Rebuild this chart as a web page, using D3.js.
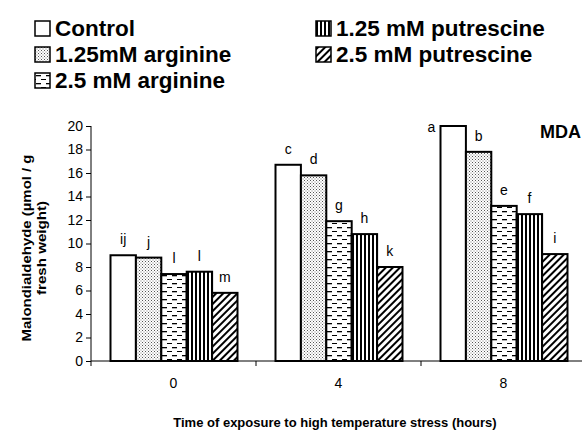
<!DOCTYPE html>
<html>
<head>
<meta charset="utf-8">
<script src="https://cdn.jsdelivr.net/npm/d3@7"></script>
<style>
  html, body { margin: 0; padding: 0; background: #fff; }
  svg { display: block; }
  text { font-family: Arial, "Liberation Sans", sans-serif; fill: #000; }
</style>
</head>
<body>
<svg id="chart" width="582" height="432"></svg>
<script>
// ---- data ----
const categories = ["0", "4", "8"];
const seriesNames = ["Control", "1.25mM arginine", "2.5 mM arginine", "1.25 mM putrescine", "2.5 mM putrescine"];
const control      = [9.0, 16.7, 20.0];
const arginine125  = [8.8, 15.8, 17.8];
const arginine25   = [7.4, 11.9, 13.2];
const putrescine125 = [7.6, 10.8, 12.5];
const putrescine25 = [5.8, 8.0, 9.1];
const letters0 = ["ij", "j", "l", "l", "m"];
const letters4 = ["c", "d", "g", "h", "k"];
const letters8 = ["a", "b", "e", "f", "i"];
const yTicks = [0, 2, 4, 6, 8, 10, 12, 14, 16, 18, 20];
const yLabelLines = ["Malondialdehyde (\u00b5mol / g", "fresh weight)"];
const xTitle = "Time of exposure to high temperature stress (hours)";
const panelLabel = "MDA";

const seriesValues = [control, arginine125, arginine25, putrescine125, putrescine25];
const letters = [letters0, letters4, letters8];
const patternIds = ["p-none", "p-dots", "p-dash", "p-vert", "p-diag"];

const svg = d3.select("#chart");

// ---- patterns ----
const defs = svg.append("defs");
const pd = defs.append("pattern").attr("id", "p-dots").attr("patternUnits", "userSpaceOnUse")
  .attr("width", 3).attr("height", 3);
pd.append("rect").attr("width", 3).attr("height", 3).attr("fill", "#fff");
pd.append("rect").attr("x", 0).attr("y", 0).attr("width", 1).attr("height", 1).attr("fill", "#555");
pd.append("rect").attr("x", 1.5).attr("y", 1.5).attr("width", 1).attr("height", 1).attr("fill", "#777");

const pdash = defs.append("pattern").attr("id", "p-dash").attr("patternUnits", "userSpaceOnUse")
  .attr("width", 10).attr("height", 8);
pdash.append("rect").attr("width", 10).attr("height", 8).attr("fill", "#fff");
pdash.append("rect").attr("x", 1).attr("y", 3).attr("width", 5).attr("height", 1.3).attr("fill", "#000");
pdash.append("rect").attr("x", 6).attr("y", 7).attr("width", 4).attr("height", 1.1).attr("fill", "#000");
pdash.append("rect").attr("x", 0).attr("y", 7).attr("width", 1).attr("height", 1.1).attr("fill", "#000");

const pv = defs.append("pattern").attr("id", "p-vert").attr("patternUnits", "userSpaceOnUse")
  .attr("width", 4).attr("height", 4);
pv.append("rect").attr("width", 4).attr("height", 4).attr("fill", "#fff");
pv.append("rect").attr("x", 0).attr("y", 0).attr("width", 2).attr("height", 4).attr("fill", "#000");

const pg = defs.append("pattern").attr("id", "p-diag").attr("patternUnits", "userSpaceOnUse")
  .attr("width", 5).attr("height", 5).attr("patternTransform", "rotate(45)");
pg.append("rect").attr("width", 5).attr("height", 5).attr("fill", "#fff");
pg.append("rect").attr("x", 0).attr("y", 0).attr("width", 2).attr("height", 5).attr("fill", "#000");

const fillFor = i => i === 0 ? "#fff" : `url(#${patternIds[i]})`;

// ---- scales ----
const x0 = d3.scaleBand().domain(categories).range([91, 586]).paddingInner(0).paddingOuter(0);
const x1 = d3.scaleBand().domain(d3.range(seriesNames.length)).range([19.5, 146.5]);
const y = d3.scaleLinear().domain([0, 20]).range([361, 126]);

// ---- bars ----
const groups = svg.append("g").selectAll("g").data(categories).join("g")
  .attr("transform", d => `translate(${x0(d)},0)`);

groups.each(function (cat, ci) {
  const g = d3.select(this);
  const rows = seriesValues.map((vals, si) => ({ si, v: vals[ci], letter: letters[ci][si] }));
  g.selectAll("rect").data(rows).join("rect")
    .attr("x", d => x1(d.si))
    .attr("y", d => y(d.v))
    .attr("width", x1.bandwidth())
    .attr("height", d => y(0) - y(d.v))
    .attr("fill", d => fillFor(d.si))
    .attr("stroke", "#000")
    .attr("stroke-width", 2);
  g.selectAll("text.lt").data(rows).join("text")
    .attr("class", "lt")
    .attr("x", d => (d.letter === "a") ? x1(d.si) - 9 : x1(d.si) + x1.bandwidth() / 2)
    .attr("y", d => (d.letter === "a") ? y(d.v) + 6 : y(d.v) - 11)
    .attr("text-anchor", "middle")
    .attr("font-size", 14)
    .text(d => d.letter);
});

// ---- axes ----
const yAxis = d3.axisLeft(y).tickValues(yTicks).tickSize(5).tickPadding(3).tickFormat(d3.format("d"));
const gy = svg.append("g").attr("transform", "translate(91,0)").call(yAxis);
gy.select(".domain").attr("stroke", "#000").attr("d", `M0,${y(20)}V${y(0)}`);
gy.selectAll(".tick line").attr("stroke", "#000");
gy.selectAll(".tick text").attr("font-size", 14).attr("font-family", "Arial, 'Liberation Sans', sans-serif");

const xAxis = d3.axisBottom(x0).tickSize(0).tickPadding(17);
const gx = svg.append("g").attr("transform", `translate(0,${y(0)})`).call(xAxis);
gx.select(".domain").attr("stroke", "#000").attr("d", `M91,0H586`);
gx.selectAll(".tick text").attr("font-size", 14).attr("font-family", "Arial, 'Liberation Sans', sans-serif");
const bounds = categories.map(c => x0(c)).concat([x0.range()[1]]);
gx.append("g").selectAll("line").data(bounds).join("line")
  .attr("x1", d => d).attr("x2", d => d).attr("y1", 0).attr("y2", 5).attr("stroke", "#000");

// ---- titles ----
const yl = svg.append("text")
  .attr("transform", "rotate(-90)")
  .attr("text-anchor", "middle")
  .attr("font-weight", "bold")
  .attr("font-size", 13.5);
yl.selectAll("tspan").data(yLabelLines).join("tspan")
  .attr("x", -248)
  .attr("y", (d, i) => 31 + i * 15)
  .attr("textLength", (d, i) => i === 0 ? 187 : 94)
  .attr("lengthAdjust", "spacingAndGlyphs")
  .text(d => d);

svg.append("text")
  .attr("x", 335).attr("y", 427)
  .attr("text-anchor", "middle")
  .attr("font-weight", "bold")
  .attr("font-size", 13)
  .text(xTitle);

svg.append("text")
  .attr("x", 581).attr("y", 138)
  .attr("text-anchor", "end")
  .attr("font-weight", "bold")
  .attr("font-size", 18)
  .text(panelLabel);

// ---- legend ----
const legendPos = [
  { x: 35, y: 36 }, { x: 35, y: 62 }, { x: 35, y: 88 },
  { x: 316, y: 36 }, { x: 316, y: 62 }
];
const lg = svg.append("g").selectAll("g").data(seriesNames).join("g")
  .attr("transform", (d, i) => `translate(${legendPos[i].x},${legendPos[i].y})`);
lg.append("rect")
  .attr("x", 0).attr("y", -15).attr("width", 15).attr("height", 15)
  .attr("fill", (d, i) => fillFor(i))
  .attr("stroke", "#000").attr("stroke-width", 1.5);
lg.append("text")
  .attr("x", 20).attr("y", 0)
  .attr("font-weight", "bold")
  .attr("font-size", 22.5)
  .text(d => d);
</script>
</body>
</html>
